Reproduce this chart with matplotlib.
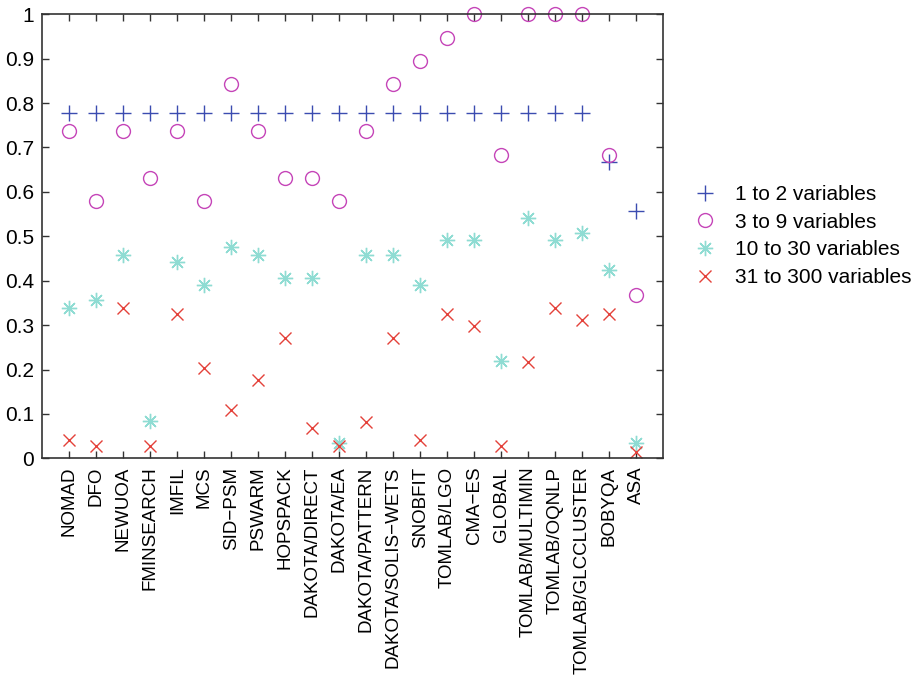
import matplotlib
matplotlib.use("Agg")
import matplotlib.pyplot as plt
import numpy as np

plt.rcParams['font.family'] = ['Liberation Sans', 'DejaVu Sans']

solvers = ["NOMAD", "DFO", "NEWUOA", "FMINSEARCH", "IMFIL", "MCS", "SID\u2212PSM",
           "PSWARM", "HOPSPACK", "DAKOTA/DIRECT", "DAKOTA/EA", "DAKOTA/PATTERN",
           "DAKOTA/SOLIS\u2212WETS", "SNOBFIT", "TOMLAB/LGO", "CMA\u2212ES", "GLOBAL",
           "TOMLAB/MULTIMIN", "TOMLAB/OQNLP", "TOMLAB/GLCCLUSTER", "BOBYQA", "ASA"]

vars_1_2 = [0.778] * 20 + [0.667, 0.556]
vars_3_9 = [0.737, 0.579, 0.737, 0.632, 0.737, 0.579, 0.842, 0.737, 0.632, 0.632, 0.579,
            0.737, 0.842, 0.895, 0.947, 1.0, 0.684, 1.0, 1.0, 1.0, 0.684, 0.368]
vars_10_30 = [0.339, 0.356, 0.458, 0.085, 0.441, 0.390, 0.475, 0.458, 0.407, 0.407, 0.034,
              0.458, 0.458, 0.390, 0.492, 0.492, 0.220, 0.542, 0.492, 0.508, 0.424, 0.034]
vars_31_300 = [0.041, 0.027, 0.338, 0.027, 0.324, 0.203, 0.108, 0.176, 0.270, 0.068, 0.027,
               0.081, 0.270, 0.041, 0.324, 0.297, 0.027, 0.216, 0.338, 0.311, 0.324, 0.014]

fig = plt.figure(figsize=(9.21, 6.78), dpi=100)
ax = fig.add_axes([0.046, 0.324, 0.674, 0.655])

x = np.arange(1, len(solvers) + 1)
ms = 10
ax.plot(x, vars_1_2, linestyle='none', marker='+', ms=ms + 1, mew=1.0,
        color='#3b4cb0', label='1 to 2 variables', clip_on=False)
ax.plot(x, vars_3_9, linestyle='none', marker='o', ms=ms, mew=1.0, mfc='none',
        color='#c545b8', label='3 to 9 variables', clip_on=False)
ax.plot(x, vars_10_30, linestyle='none', marker=(8, 2, 0), ms=ms + 1, mew=1.0,
        color='#8fdcd3', label='10 to 30 variables', clip_on=False)
ax.plot(x, vars_31_300, linestyle='none', marker='x', ms=ms - 1.5, mew=1.0,
        color='#e4413a', label='31 to 300 variables', clip_on=False)

ax.set_xlim(0, len(solvers) + 1)
ax.set_ylim(0, 1)
ax.set_xticks(x)
ax.set_xticklabels(solvers, rotation=90, fontsize=13.5)
ax.set_yticks(np.arange(0, 1.01, 0.1))
ax.set_yticklabels(["0", "0.1", "0.2", "0.3", "0.4", "0.5", "0.6", "0.7", "0.8", "0.9", "1"],
                   fontsize=15)
ax.tick_params(direction='in', length=5, width=1.0, color='#333333',
               top=True, right=True, pad=6)
for s in ax.spines.values():
    s.set_linewidth(1.2)
    s.set_color('#333333')

ax.legend(loc='center left', bbox_to_anchor=(695 / 921, 1 - 236 / 678),
          bbox_transform=fig.transFigure, frameon=False, fontsize=15,
          handlelength=1.0, handletextpad=0.92, labelspacing=0.42, borderpad=0,
          borderaxespad=0)

fig.savefig("out.png", dpi=100)
